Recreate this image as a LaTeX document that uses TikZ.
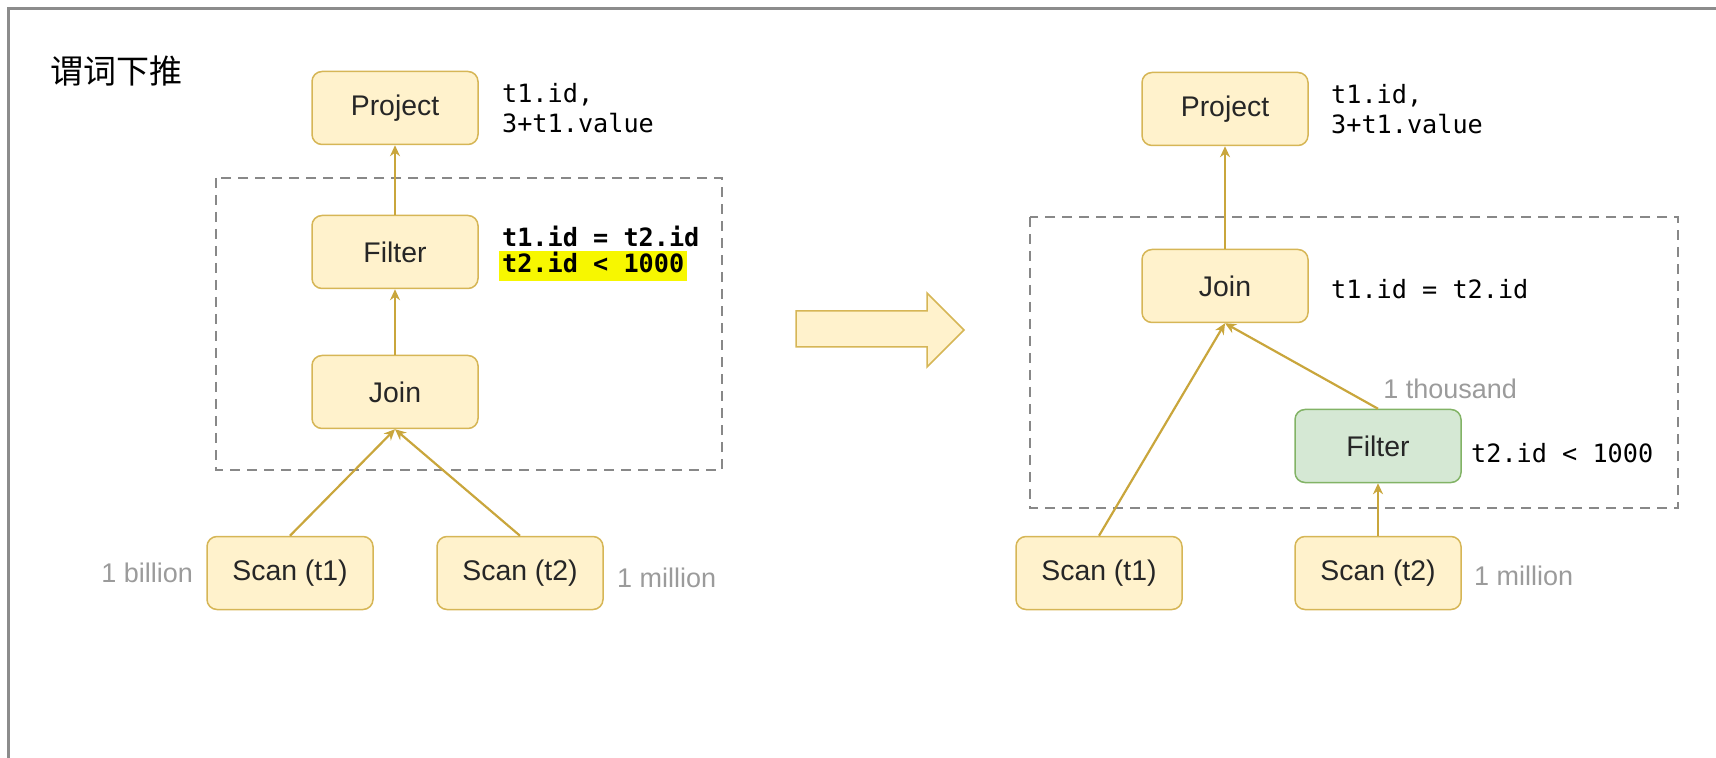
\documentclass[tikz,border=0pt]{standalone}
\usepackage{fontspec}
\setmainfont{Liberation Sans}
\setmonofont{DejaVu Sans Mono}
\newfontfamily\cjk{Noto Sans CJK SC}
\usepackage{xcolor}
\usetikzlibrary{arrows.meta,positioning}
\definecolor{boxfill}{HTML}{FFF2CC}
\definecolor{boxline}{HTML}{D6B656}
\definecolor{greenfill}{HTML}{D5E8D4}
\definecolor{greenline}{HTML}{82B366}
\definecolor{flowcol}{HTML}{C9A63C}
\definecolor{groupcol}{HTML}{888888}
\definecolor{framecol}{HTML}{8C8C8C}
\definecolor{countcol}{HTML}{9B9B9B}
\definecolor{hl}{HTML}{F7F700}
\tikzset{
	opbox/.style={draw=boxline, fill=boxfill, rounded corners=5pt, line width=0.75pt, minimum width=83pt, minimum height=36.5pt, text=black!85, font=\fontsize{14.2}{17}\selectfont},
	greenbox/.style={opbox, draw=greenline, fill=greenfill},
	flow/.style={-{Stealth[length=5.5pt,width=5pt]}, draw=flowcol, line width=1.1pt},
	groupbox/.style={draw=groupcol, dash pattern=on 5pt off 3.5pt, line width=1pt},
	note/.style={inner sep=0pt, align=left, font=\ttfamily\fontsize{12.6}{15}\selectfont},
	count/.style={inner sep=0pt, text=countcol, font=\fontsize{13.5}{16}\selectfont},
	bigarrow/.style={draw=boxline, fill=boxfill, line width=0.75pt, line join=miter}
}
\begin{document}
\begin{tikzpicture}[x=0.5pt, y=-0.5pt]
	\useasboundingbox (0,0) rectangle (1716,758);
	\draw[framecol, line width=1.5pt] (8,758) -- (8,8.5) -- (1716,8.5);
	\node[anchor=west, inner sep=0pt, font=\cjk\fontsize{16.5}{18}\selectfont] (title) at (50,71) {谓词下推};

	% before
	\draw[groupbox] (216,178) rectangle (722,470);
	\node[opbox] (lproj) at (395,108) {Project};
	\node[opbox] (lfilt) at (395,252) {Filter};
	\node[opbox] (ljoin) at (395,392) {Join};
	\node[opbox] (lscan1) at (290,573) {Scan (t1)};
	\node[opbox] (lscan2) at (520,573) {Scan (t2)};
	\node[note, right=11.5pt of lproj] (lprojnote) {t1.id,\\3+t1.value};
	\node[note, right=11.5pt of lfilt, yshift=8pt, font=\ttfamily\bfseries\fontsize{12.6}{15}\selectfont] (ljoincond) {t1.id = t2.id};
	\node[note, right=10pt of lfilt, yshift=-7pt, fill=hl, inner xsep=1.5pt, inner ysep=1.5pt, text height=9.5pt, text depth=2.5pt, font=\ttfamily\bfseries\fontsize{12.6}{15}\selectfont] (lpushcond) {t2.id < 1000};
	\node[count, left=6.5pt of lscan1] (lrows1) {1 billion};
	\node[count, right=6.5pt of lscan2, yshift=-2.5pt] (lrows2) {1 million};
	\draw[flow] (lfilt) -- (lproj);
	\draw[flow] (ljoin) -- (lfilt);
	\draw[flow] (lscan1.north) -- (ljoin.south);
	\draw[flow] (lscan2.north) -- (ljoin.south);

	% rewrite
	\draw[bigarrow] (796,311) -- (927,311) -- (927,293) -- (964,330) -- (927,367) -- (927,347) -- (796,347) -- cycle;

	% after
	\draw[groupbox] (1030,217) rectangle (1678,508);
	\node[opbox] (rproj) at (1225,109) {Project};
	\node[opbox] (rjoin) at (1225,286) {Join};
	\node[greenbox] (rfilt) at (1378,446) {Filter};
	\node[opbox] (rscan1) at (1099,573) {Scan (t1)};
	\node[opbox] (rscan2) at (1378,573) {Scan (t2)};
	\node[note, right=11pt of rproj] (rprojnote) {t1.id,\\3+t1.value};
	\node[note, right=11pt of rjoin, yshift=-1.5pt] (rjoincond) {t1.id = t2.id};
	\node[note, right=4.5pt of rfilt, yshift=-3.5pt] (rpushcond) {t2.id < 1000};
	\node[count, above right=4.6pt and 2.5pt of rfilt.north] (rrowsf) {1 thousand};
	\node[count, right=6pt of rscan2, yshift=-1.5pt] (rrows2) {1 million};
	\draw[flow] (rjoin) -- (rproj);
	\draw[flow] (rscan1.north) -- (rjoin.south);
	\draw[flow] (rfilt.north) -- (rjoin.south);
	\draw[flow] (rscan2) -- (rfilt);
\end{tikzpicture}
\end{document}
